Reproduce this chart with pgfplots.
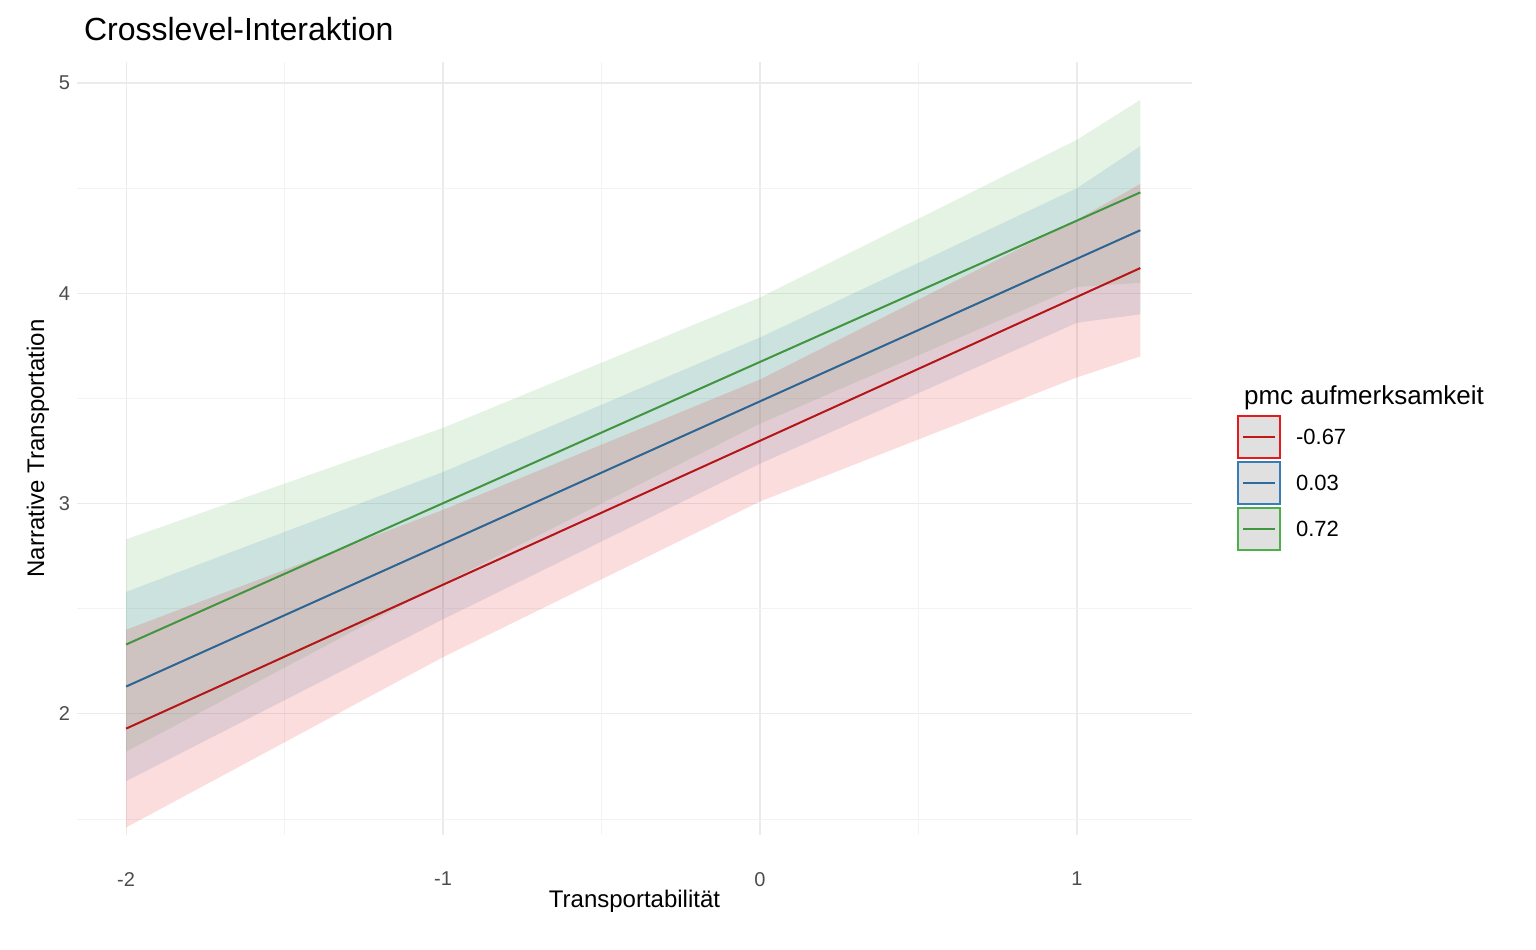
\documentclass[border=0pt]{standalone}
\usepackage{pgfplots}
\pgfplotsset{compat=1.18}
\usepackage{fontspec}
\setmainfont{Liberation Sans}
\usepgfplotslibrary{fillbetween}
\definecolor{cr}{HTML}{E41A1C}
\definecolor{cb}{HTML}{377EB8}
\definecolor{cg}{HTML}{4DAF4A}
\definecolor{gridc}{HTML}{EBEBEB}
\definecolor{tickc}{HTML}{4D4D4D}
\begin{document}
\begin{tikzpicture}
\useasboundingbox (-38.5pt,-57pt) rectangle (729.5pt,417.5pt);
\begin{axis}[at={(0,0)},anchor=south west,scale only axis,
 width=557.5pt,height=386.5pt,
 xmin=-2.155,xmax=1.363,ymin=1.424,ymax=5.1,
 axis line style={draw=none},tick style={draw=none},
 xtick={-2,-1,0,1},ytick={2,3,4,5},
 minor xtick={-1.5,-0.5,0.5},minor ytick={1.5,2.5,3.5,4.5},
 grid=both,major grid style={gridc,line width=0.6pt},minor grid style={gridc!60,line width=0.4pt},
 ticklabel style={font=\fontsize{10}{12}\selectfont,text=tickc},
 xticklabel style={yshift=-15pt},
 /pgf/number format/assume math mode=true,
 xlabel={Transportabilität},ylabel={Narrative Transportation},
 label style={font=\fontsize{12}{14}\selectfont},
 xlabel style={at={(axis description cs:0.5,0)},yshift=-24pt},
 ylabel style={yshift=-2pt},
 clip=false]
% ribbons
\addplot[draw=none,fill=cg,fill opacity=0.15] coordinates {(-2,1.82)(-1,2.62)(0,3.38)(1,4.03)(1.2,4.05)(1.2,4.92)(1,4.73)(0,3.98)(-1,3.36)(-2,2.83)} --cycle;
\addplot[draw=none,fill=cb,fill opacity=0.15] coordinates {(-2,1.68)(-1,2.45)(0,3.19)(1,3.86)(1.2,3.90)(1.2,4.70)(1,4.50)(0,3.79)(-1,3.15)(-2,2.58)} --cycle;
\addplot[draw=none,fill=cr,fill opacity=0.15] coordinates {(-2,1.46)(-1,2.27)(0,3.01)(1,3.60)(1.2,3.70)(1.2,4.52)(1,4.35)(0,3.59)(-1,2.97)(-2,2.40)} --cycle;
% lines
\addplot[cr!80!black,line width=1pt] coordinates {(-2,1.93)(1.2,4.12)};
\addplot[cb!80!black,line width=1pt] coordinates {(-2,2.13)(1.2,4.30)};
\addplot[cg!85!black,line width=1pt] coordinates {(-2,2.33)(1.2,4.48)};
\end{axis}
\node[anchor=base west,font=\fontsize{16}{18}\selectfont] at (0pt,397pt) {Crosslevel-Interaktion};
\node[anchor=base west,font=\fontsize{13}{15}\selectfont] at (580pt,215pt) {pmc aufmerksamkeit};
\foreach \c/\t/\y in {cr/-0.67/209.5,cb/0.03/186.5,cg/0.72/163.5}{
 \draw[\c,fill=black!12,line width=0.7pt] (580.5pt,\y pt) rectangle (601.5pt,\y pt-21pt);
 \draw[\c!85!black,line width=1pt] (583pt,\y pt-10.5pt) -- (599pt,\y pt-10.5pt);
 \node[anchor=west,font=\fontsize{11}{13}\selectfont] at (606pt,\y pt-10.5pt) {\t};
}
\end{tikzpicture}
\end{document}
